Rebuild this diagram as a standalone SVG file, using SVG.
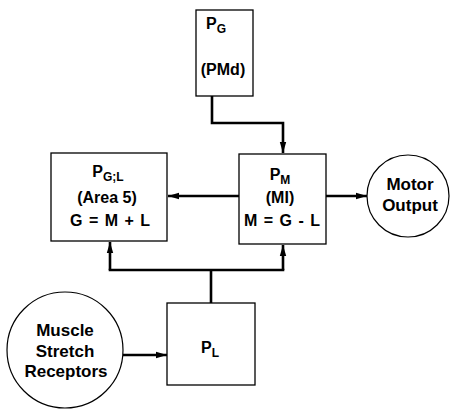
<svg xmlns="http://www.w3.org/2000/svg" width="450" height="412" viewBox="0 0 450 412">
<defs>
<style>
.box{fill:#fff;stroke:#000;stroke-width:1.3}
.circ{fill:#fff;stroke:#000;stroke-width:1.2}
.t{font-family:"Liberation Sans",Arial,sans-serif;font-weight:bold;font-size:16px;fill:#000;text-anchor:middle}
.ct{font-size:17px}
.sub{font-size:12px}
.c{fill:none;stroke:#000;stroke-width:2.6}
</style>
<marker id="ah" markerUnits="userSpaceOnUse" markerWidth="12" markerHeight="8" refX="11" refY="4" orient="auto">
<path d="M0,0.8 L11,4 L0,7.2 Z" fill="#000"/>
</marker>
</defs>
<rect width="450" height="412" fill="#fff"/>
<g id="connectors">
<path class="c" d="M212,96 V123 H283 V153" marker-end="url(#ah)"/>
<path class="c" d="M239,196 H168" marker-end="url(#ah)"/>
<path class="c" d="M326,196 H367" marker-end="url(#ah)"/>
<path class="c" d="M123,355 H167" marker-end="url(#ah)"/>
<path class="c" d="M211,303 V270"/>
<path class="c" d="M108.7,270 H284.3"/>
<path class="c" d="M110,270 V242" marker-end="url(#ah)"/>
<path class="c" d="M283,270 V245" marker-end="url(#ah)"/>
</g>
<g id="PG">
<rect class="box" x="196" y="10" width="57" height="86"/>
<text class="t" x="216" y="29">P<tspan class="sub" dy="4">G</tspan></text>
<text class="t" x="223" y="75">(PMd)</text>
</g>
<g id="PGL">
<rect class="box" x="51" y="153" width="116" height="88"/>
<text class="t" x="108" y="177">P<tspan class="sub" dy="4">G;L</tspan></text>
<text class="t" x="107" y="203">(Area 5)</text>
<text class="t" x="110" y="226" word-spacing="2">G = M + L</text>
</g>
<g id="PM">
<rect class="box" x="239" y="154" width="87" height="90"/>
<text class="t" x="280" y="180">P<tspan class="sub" dy="4">M</tspan></text>
<text class="t" x="280" y="203">(MI)</text>
<text class="t" x="282" y="226" word-spacing="2">M = G - L</text>
</g>
<g id="PL">
<rect class="box" x="167" y="303" width="88" height="82"/>
<text class="t" x="210" y="353">P<tspan class="sub" dy="4">L</tspan></text>
</g>
<g id="motor">
<circle class="circ" cx="408" cy="196" r="41"/>
<text class="t ct" x="410" y="190">Motor</text>
<text class="t ct" x="410" y="211">Output</text>
</g>
<g id="muscle">
<circle class="circ" cx="65" cy="350" r="58"/>
<text class="t ct" x="65" y="336">Muscle</text>
<text class="t ct" x="65" y="357">Stretch</text>
<text class="t ct" x="66" y="377">Receptors</text>
</g>
</svg>
